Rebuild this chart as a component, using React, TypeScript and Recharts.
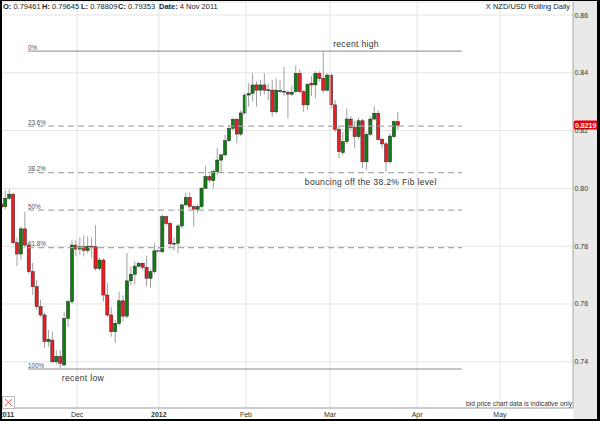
import React from 'react';
import { ComposedChart, Bar, XAxis, YAxis, CartesianGrid, ReferenceLine, ReferenceDot } from 'recharts';

// ---- data (daily candles from 4 Nov 2011) ----
const opens = [
  0.79461, 0.7937, 0.7966, 0.798, 0.7812, 0.7773, 0.786, 0.7804, 0.7712, 0.766,
  0.7591, 0.7562, 0.747, 0.7475, 0.74, 0.7418, 0.7389, 0.755, 0.7608, 0.7804,
  0.779, 0.7798, 0.7785, 0.78, 0.7798, 0.7723, 0.7752, 0.7631, 0.7562, 0.7504,
  0.7533, 0.7611, 0.7558, 0.768, 0.7703, 0.7731, 0.7741, 0.7727, 0.7689, 0.7712,
  0.7784, 0.7781, 0.7902, 0.7879, 0.7808, 0.781, 0.787, 0.7943, 0.7969, 0.7937,
  0.7928, 0.7937, 0.8, 0.8041, 0.8027, 0.8058, 0.8098, 0.8116, 0.8165, 0.8208,
  0.8239, 0.8188, 0.8261, 0.8323, 0.8329, 0.8358, 0.834, 0.8358, 0.834, 0.834,
  0.8265, 0.8338, 0.8336, 0.8333, 0.8326, 0.8335, 0.8398, 0.8335, 0.8289, 0.8364,
  0.8358, 0.8398, 0.8381, 0.834, 0.8392, 0.8289, 0.8204, 0.8124, 0.8162, 0.824,
  0.8211, 0.8179, 0.8234, 0.8092, 0.8187, 0.824, 0.826, 0.817, 0.8154, 0.8092,
  0.8179, 0.8231,
];
const highs = [
  0.79645, 0.7994, 0.7997, 0.7985, 0.783, 0.7868, 0.7919, 0.7812, 0.7742, 0.7683,
  0.7615, 0.757, 0.751, 0.7504, 0.744, 0.744, 0.7573, 0.7615, 0.7821, 0.7821,
  0.783, 0.7838, 0.7835, 0.783, 0.7873, 0.776, 0.7758, 0.7673, 0.759, 0.7545,
  0.7643, 0.763, 0.7776, 0.773, 0.7748, 0.7748, 0.7744, 0.7767, 0.772, 0.781,
  0.78, 0.791, 0.7905, 0.7885, 0.783, 0.7878, 0.7948, 0.7985, 0.7985, 0.7942,
  0.7945, 0.8005, 0.8078, 0.8048, 0.8065, 0.814, 0.812, 0.8185, 0.822, 0.8245,
  0.8245, 0.827, 0.833, 0.8364, 0.8398, 0.837, 0.8375, 0.8398, 0.8362, 0.8375,
  0.8381, 0.8375, 0.8421, 0.834, 0.8355, 0.8425, 0.8412, 0.834, 0.8365, 0.8388,
  0.8405, 0.8405, 0.8473, 0.8398, 0.8398, 0.8306, 0.8215, 0.8195, 0.8277, 0.825,
  0.8235, 0.8245, 0.824, 0.8195, 0.825, 0.8285, 0.827, 0.8175, 0.816, 0.819,
  0.8235, 0.8265,
];
const lows = [
  0.78809, 0.7928, 0.796, 0.7806, 0.7731, 0.7752, 0.7795, 0.7705, 0.7631, 0.758,
  0.7555, 0.7448, 0.7452, 0.7396, 0.7392, 0.7378, 0.7385, 0.752, 0.76, 0.7765,
  0.777, 0.7765, 0.7775, 0.776, 0.7715, 0.7715, 0.7608, 0.7555, 0.7487, 0.7465,
  0.7525, 0.754, 0.755, 0.7665, 0.7668, 0.7725, 0.7718, 0.766, 0.7655, 0.7705,
  0.7775, 0.7775, 0.787, 0.7793, 0.7785, 0.7776, 0.7862, 0.7938, 0.793, 0.7868,
  0.7915, 0.793, 0.8, 0.802, 0.8, 0.8045, 0.8052, 0.811, 0.816, 0.82,
  0.8156, 0.818, 0.8255, 0.8283, 0.83, 0.8283, 0.832, 0.8325, 0.8305, 0.8248,
  0.8258, 0.833, 0.832, 0.8243, 0.832, 0.833, 0.833, 0.8265, 0.827, 0.832,
  0.8312, 0.837, 0.833, 0.8335, 0.8275, 0.8195, 0.8104, 0.8115, 0.8155, 0.82,
  0.8139, 0.817, 0.807, 0.8064, 0.818, 0.8235, 0.8165, 0.8139, 0.8058, 0.8085,
  0.8175, 0.8202,
];
const closes = [
  0.79353, 0.7966, 0.798, 0.7812, 0.7773, 0.786, 0.7804, 0.7712, 0.766, 0.7591,
  0.7562, 0.747, 0.7478, 0.74, 0.7418, 0.7395, 0.755, 0.7608, 0.7804, 0.779,
  0.7798, 0.7785, 0.78, 0.7795, 0.7723, 0.7752, 0.7631, 0.7562, 0.7504, 0.7533,
  0.7611, 0.7558, 0.768, 0.7703, 0.7731, 0.7741, 0.7727, 0.7689, 0.7712, 0.7784,
  0.7785, 0.7902, 0.7879, 0.7808, 0.781, 0.787, 0.7943, 0.7969, 0.7937, 0.7928,
  0.7937, 0.8, 0.8041, 0.8029, 0.8058, 0.8098, 0.8116, 0.8165, 0.8208, 0.8239,
  0.8188, 0.8261, 0.8323, 0.8329, 0.8358, 0.834, 0.8358, 0.834, 0.8341, 0.8265,
  0.834, 0.8336, 0.8334, 0.8326, 0.8333, 0.8398, 0.8335, 0.8289, 0.836, 0.8358,
  0.8398, 0.8381, 0.834, 0.8392, 0.8289, 0.8204, 0.8127, 0.8162, 0.824, 0.8211,
  0.8179, 0.8234, 0.8092, 0.8187, 0.824, 0.826, 0.817, 0.8154, 0.8092, 0.8181,
  0.8231, 0.8219,
];

// x positions (trading-day index) of the month labels
const monthTicks = [1.2, 19.2, 40.0, 62.2, 83.6, 105.8, 126.9];
const monthLabels = ['2011', 'Dec', '2012', 'Feb', 'Mar', 'Apr', 'May'];
const gridMonthTicks = [19.2, 40.0, 62.2, 83.6, 105.8, 126.9];
const priceTicks = [0.74, 0.76, 0.78, 0.8, 0.82, 0.84, 0.86];

// Fibonacci retracement
const fibHigh = 0.8475;
const fibLow = 0.7375;
const fibRatios = [0, 0.236, 0.382, 0.5, 0.618, 1];
const fibLabels = ['0%', '23.6%', '38.2%', '50%', '61.8%', '100%'];
const fibStartIdx = 6.7;
const fibEndIdx = 117.2;

// annotation anchor points
const recentHighIdx = 84.4;
const recentLowIdx = 15.3;
const bounceIdx = 77.2;

const header = { o: '0.79461', h: '0.79645', l: '0.78809', c: '0.79353', date: '4 Nov 2011' };

const candles = opens.map((o, i) => ({
  i,
  open: o,
  high: highs[i],
  low: lows[i],
  close: closes[i],
  range: [lows[i], highs[i]],
}));

const FONT = '"Liberation Sans", Arial, Helvetica, sans-serif';
const W = 600;
const H = 421;

function Candle(props: any) {
  const { x, y, width, height, payload } = props;
  if (x == null || y == null || !payload) return null;
  const cx = x + width / 2;
  const top = Math.min(y, y + height);
  const bottom = Math.max(y, y + height);
  const { open, close, high, low } = payload;
  const span = high - low || 1e-9;
  const py = (p: number) => top + ((high - p) / span) * (bottom - top);
  const yO = py(open);
  const yC = py(close);
  const up = close >= open;
  const bTop = Math.min(yO, yC);
  const bH = Math.max(Math.abs(yC - yO), 0.8);
  const doji = Math.abs(yC - yO) < 1;
  return (
    <g>
      <line x1={cx} x2={cx} y1={top} y2={bottom} stroke="#a0a0a0" strokeWidth={1} />
      <rect
        x={cx - 1.6}
        y={bTop}
        width={3.2}
        height={bH}
        fill={doji ? '#222' : up ? '#0f7d12' : '#ec1c24'}
        stroke="#2a2a2a"
        strokeWidth={0.5}
      />
    </g>
  );
}

function FibLabel(props: any) {
  const vb = props.viewBox || {};
  return (
    <text x={vb.x} y={vb.y - 1.5} fontSize={6.3} fill="#555" fontFamily={FONT}>
      {props.text}
    </text>
  );
}

function NoteLabel(props: any) {
  const vb = props.viewBox || {};
  const cy = vb.y + (vb.height || 0) / 2;
  return (
    <text
      x={vb.x}
      y={cy + props.dy}
      fontSize={8.6}
      letterSpacing={0.3}
      fill="#333"
      fontFamily={FONT}
    >
      {props.text}
    </text>
  );
}

function PriceTag(props: any) {
  const vb = props.viewBox || {};
  const x0 = vb.x + vb.width;
  const cy = vb.y;
  return (
    <g>
      <rect x={x0 + 0.5} y={cy - 4.5} width={26} height={9} rx={2} fill="#e8000b" />
      <text x={x0 + 2} y={cy + 2.5} fontSize={7} fontWeight="bold" fill="#fff" fontFamily={FONT}>
        {props.text}
      </text>
    </g>
  );
}

function XTick(props: any) {
  const { x, y, payload } = props;
  const idx = monthTicks.indexOf(payload.value);
  const label = monthLabels[idx] ?? '';
  const bold = /^\d{4}$/.test(label);
  return (
    <text
      x={x}
      y={y + 9}
      textAnchor="middle"
      fontSize={7}
      fontWeight={bold ? 'bold' : 'normal'}
      fill="#333"
      fontFamily={FONT}
    >
      {label}
    </text>
  );
}

function YTick(props: any) {
  const { x, y, payload } = props;
  return (
    <text x={x + 1.5} y={y + 2.5} fontSize={7} fill="#333" fontFamily={FONT}>
      {Number(payload.value).toFixed(2)}
    </text>
  );
}

export default function App() {
  const last = closes[closes.length - 1];
  return (
    <div
      style={{
        position: 'fixed',
        left: 0,
        top: 0,
        width: W,
        height: H,
        background: '#fff',
        overflow: 'hidden',
        fontFamily: FONT,
      }}
    >
      {/* right axis panel */}
      <div style={{ position: 'absolute', left: 573, top: 0, width: 27, height: H, background: '#e9e9e9' }} />
      <div style={{ position: 'absolute', left: 0, top: 0 }}>
        <ComposedChart
          width={W}
          height={H}
          data={candles}
          margin={{ top: 2, right: 3, bottom: 3, left: 1 }}
        >
          <CartesianGrid vertical={false} stroke="#e4e4e4" strokeWidth={1} />
          {gridMonthTicks.map((t) => (
            <ReferenceLine key={'v' + t} x={t} stroke="#e4e4e4" strokeWidth={1} />
          ))}
          <XAxis
            dataKey="i"
            type="number"
            domain={[-0.2, 145.5]}
            allowDataOverflow
            ticks={monthTicks}
            interval={0}
            tick={<XTick />}
            tickLine={false}
            tickSize={0}
            tickMargin={0}
            axisLine={{ stroke: '#a8a8a8' }}
            height={10}
          />
          <YAxis
            orientation="right"
            type="number"
            domain={[0.72401, 0.8645]}
            allowDataOverflow
            ticks={priceTicks}
            interval={0}
            tick={<YTick />}
            tickLine={false}
            tickSize={0}
            tickMargin={0}
            axisLine={{ stroke: '#a8a8a8' }}
            width={24}
          />
          {fibRatios.map((r, k) => {
            const level = fibHigh - r * (fibHigh - fibLow);
            const solid = r === 0 || r === 1;
            return (
              <ReferenceLine
                key={'f' + k}
                segment={[
                  { x: fibStartIdx, y: level },
                  { x: fibEndIdx, y: level },
                ]}
                stroke={solid ? '#8a8a8a' : '#a9a9a9'}
                strokeWidth={solid ? 1 : 1.3}
                strokeDasharray={solid ? undefined : '6 4'}
                label={<FibLabel text={fibLabels[k]} />}
              />
            );
          })}
          <Bar dataKey="range" barSize={3} isAnimationActive={false} shape={(p: any) => <Candle {...p} />} />
          <ReferenceDot
            x={recentHighIdx}
            y={fibHigh}
            r={0}
            stroke="none"
            fill="none"
            label={<NoteLabel text="recent high" dy={-4} />}
          />
          <ReferenceDot
            x={recentLowIdx}
            y={fibLow}
            r={0}
            stroke="none"
            fill="none"
            label={<NoteLabel text="recent low" dy={12} />}
          />
          <ReferenceDot
            x={bounceIdx}
            y={fibHigh - 0.382 * (fibHigh - fibLow)}
            r={0}
            stroke="none"
            fill="none"
            label={<NoteLabel text="bouncing off the 38.2% Fib level" dy={12.5} />}
          />
          <ReferenceLine y={last} stroke="none" strokeOpacity={0} label={<PriceTag text={last.toFixed(4)} />} />
        </ComposedChart>
      </div>

      {/* header line */}
      <div style={{ position: 'absolute', left: 3, top: 2, fontSize: 7.5, color: '#222', whiteSpace: 'nowrap', lineHeight: '10px' }}>
        <span style={{ position: 'absolute', left: 0 }}><b>O:</b> {header.o}</span>
        <span style={{ position: 'absolute', left: 39 }}><b>H:</b> {header.h}</span>
        <span style={{ position: 'absolute', left: 78 }}><b>L:</b> {header.l}</span>
        <span style={{ position: 'absolute', left: 115 }}><b>C:</b> {header.c}</span>
        <span style={{ position: 'absolute', left: 156 }}><b>Date:</b> {header.date}</span>
      </div>
      <div style={{ position: 'absolute', right: 30, top: 2, fontSize: 7.5, color: '#222', whiteSpace: 'nowrap', lineHeight: '10px' }}>
        X NZD/USD Rolling Daily
      </div>

      {/* footnote */}
      <div style={{ position: 'absolute', right: 28, top: 399, fontSize: 6.6, color: '#333', whiteSpace: 'nowrap', lineHeight: '9px' }}>
        bid price chart data is indicative only
      </div>

      {/* small close icon */}
      <svg style={{ position: 'absolute', left: 2, top: 396 }} width={13} height={13}>
        <rect x={0.5} y={0.5} width={12} height={12} fill="#fff" stroke="#bbb" />
        <line x1={3} y1={3} x2={10} y2={10} stroke="#e33" strokeWidth={0.8} />
        <line x1={10} y1={3} x2={3} y2={10} stroke="#e33" strokeWidth={0.8} />
      </svg>

      {/* frame */}
      <div
        style={{
          position: 'absolute',
          left: 0,
          top: 0,
          width: W,
          height: H,
          boxSizing: 'border-box',
          borderTop: '1px solid #000',
          borderLeft: '2px solid #000',
          borderBottom: '2px solid #000',
          borderRight: '3px solid #000',
          pointerEvents: 'none',
        }}
      />
    </div>
  );
}
